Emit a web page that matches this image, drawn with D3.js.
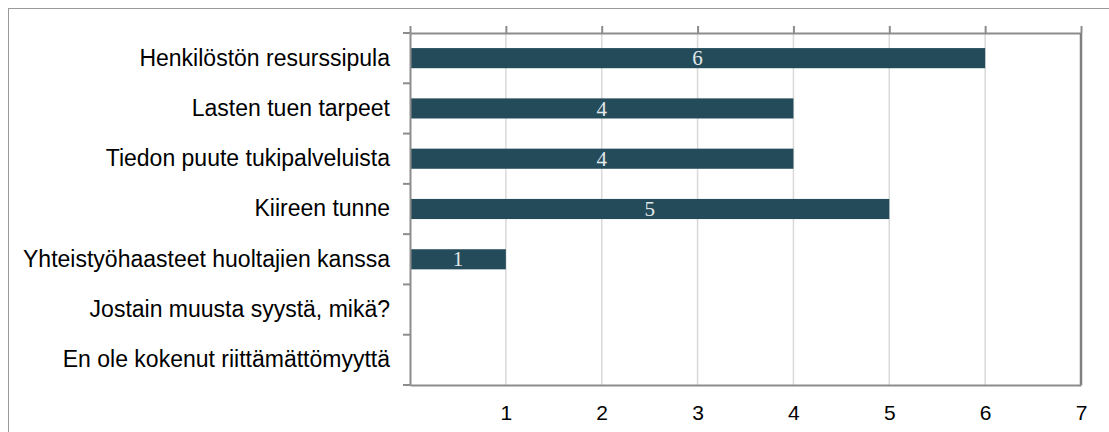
<!DOCTYPE html>
<html>
<head>
<meta charset="utf-8">
<script src="https://cdn.jsdelivr.net/npm/d3@7"></script>
<style>
  body { margin: 0; background: #fff; }
  svg { display: block; }
</style>
</head>
<body>
<svg id="chart" width="1109" height="432"></svg>
<script>
const categories = [
  "Henkilöstön resurssipula",
  "Lasten tuen tarpeet",
  "Tiedon puute tukipalveluista",
  "Kiireen tunne",
  "Yhteistyöhaasteet huoltajien kanssa",
  "Jostain muusta syystä, mikä?",
  "En ole kokenut riittämättömyyttä"
];
const values = [6, 4, 4, 5, 1, 0, 0];
const xTicks = [1, 2, 3, 4, 5, 6, 7];

const svg = d3.select("#chart");
const m = {left: 410, right: 1081, top: 33, bottom: 385};

const X = d3.scaleLinear().domain([0, 7]).range([m.left, m.right]);
const Y = d3.scaleBand().domain(categories).range([m.top, m.bottom])
  .paddingInner(0.6).paddingOuter(0.3);

// outer frame
svg.append("rect")
  .attr("x", 8.5).attr("y", 8.5).attr("width", 1120).attr("height", 440)
  .attr("fill", "none").attr("stroke", "#9a9a9a").attr("stroke-width", 1);

// gridlines
svg.append("g").selectAll("line").data(xTicks.slice(0, -1)).enter().append("line")
  .attr("x1", d => X(d)).attr("x2", d => X(d))
  .attr("y1", m.top).attr("y2", m.bottom)
  .attr("stroke", "#d9d9d9").attr("stroke-width", 1.5);

// bars
const data = categories.map((c, i) => ({cat: c, v: values[i]}));
svg.append("g").selectAll("rect").data(data.filter(d => d.v > 0)).enter().append("rect")
  .attr("x", X(0))
  .attr("y", d => Y(d.cat))
  .attr("width", d => X(d.v) - X(0))
  .attr("height", Y.bandwidth())
  .attr("fill", "#244b5a");

svg.append("g").selectAll("text").data(data.filter(d => d.v > 0)).enter().append("text")
  .attr("x", d => (X(0) + X(d.v)) / 2)
  .attr("y", d => Y(d.cat) + Y.bandwidth() / 2)
  .attr("dy", "0.34em")
  .attr("text-anchor", "middle")
  .attr("fill", "#e2e8ea")
  .style("font", "21px 'Liberation Serif', serif")
  .text(d => d.v);

// plot frame: top with upward ticks, right, bottom, left
const topAxis = svg.append("g").attr("transform", `translate(0,${m.top})`)
  .call(d3.axisTop(X).tickValues([0].concat(xTicks)).tickSize(7).tickSizeOuter(0).tickFormat(""));
topAxis.selectAll("path, line").attr("stroke", "#8c8c8c").attr("stroke-width", 2);

svg.append("line")
  .attr("x1", m.right).attr("x2", m.right).attr("y1", m.top).attr("y2", m.bottom)
  .attr("stroke", "#808080").attr("stroke-width", 2.5);

const bottomAxis = svg.append("g").attr("transform", `translate(0,${m.bottom})`)
  .call(d3.axisBottom(X).tickValues(xTicks).tickFormat(d3.format("d")).tickSize(0).tickPadding(20));
bottomAxis.select(".domain").attr("stroke", "#8c8c8c").attr("stroke-width", 2);
bottomAxis.selectAll("text")
  .attr("fill", "#000")
  .style("font", "21px 'Liberation Sans', Arial, sans-serif");

const leftAxis = svg.append("g").attr("transform", `translate(${m.left},0)`)
  .call(d3.axisLeft(Y).tickSize(0).tickPadding(20));
leftAxis.select(".domain").attr("stroke", "#8c8c8c").attr("stroke-width", 2);
leftAxis.selectAll("text")
  .attr("fill", "#000")
  .style("font", "23px 'Liberation Sans', Arial, sans-serif");

// left ticks on category boundaries
const step = Y.step();
const bounds = d3.range(categories.length + 1).map(i => m.top + i * step);
svg.append("g").selectAll("line").data(bounds).enter().append("line")
  .attr("x1", m.left - 7).attr("x2", m.left)
  .attr("y1", d => d).attr("y2", d => d)
  .attr("stroke", "#8c8c8c").attr("stroke-width", 2);
</script>
</body>
</html>
